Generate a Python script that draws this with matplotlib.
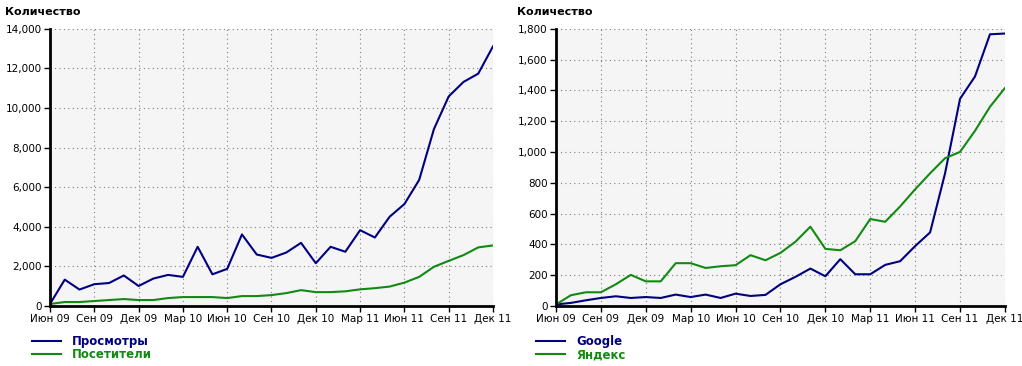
import matplotlib
matplotlib.use("Agg")
import matplotlib.pyplot as plt

# monthly data, Jun 2009 .. Dec 2011
tick_labels = ["Июн 09", "Сен 09", "Дек 09", "Мар 10", "Июн 10", "Сен 10",
               "Дек 10", "Мар 11", "Июн 11", "Сен 11", "Дек 11"]

views = [100, 1330, 830, 1100, 1160, 1540, 1010, 1385, 1570, 1470, 2990,
         1600, 1875, 3615, 2600, 2430, 2700, 3190, 2160, 2990, 2740, 3830,
         3460, 4510, 5150, 6370, 8940, 10590, 11320, 11740, 13120]
visitors = [100, 200, 200, 250, 300, 350, 300, 300, 400, 450, 450,
            450, 400, 500, 500, 550, 650, 800, 700, 700, 740, 840,
            900, 980, 1180, 1470, 1980, 2280, 2570, 2960, 3060]

google = [10, 20, 37, 52, 63, 52, 58, 52, 74, 58, 74,
          52, 80, 65, 72, 141, 189, 243, 193, 304, 206, 206,
          267, 291, 389, 478, 862, 1346, 1491, 1765, 1770]
yandex = [10, 70, 89, 89, 141, 202, 160, 160, 278, 278, 247,
          258, 265, 330, 297, 345, 417, 515, 371, 362, 421, 565,
          547, 647, 758, 862, 960, 1001, 1138, 1294, 1416]

NAVY = "#000080"
GREEN = "#128a12"
TICK_FS = 7.5


def style_axes(ax, ymax, ystep):
    months = list(range(len(views)))
    ax.set_facecolor("#f5f5f5")
    ax.set_xlim(0, months[-1])
    ax.set_ylim(0, ymax)
    ax.set_xticks(months[::3])
    ax.set_xticklabels(tick_labels, fontsize=TICK_FS)
    yt = list(range(0, ymax + 1, ystep))
    ax.set_yticks(yt)
    ax.set_yticklabels([f"{v:,}" for v in yt], fontsize=TICK_FS)
    ax.grid(True, linestyle=(0, (1, 3)), color="#808080", linewidth=0.8)
    for s in ["top", "right"]:
        ax.spines[s].set_visible(False)
    for s in ["left", "bottom"]:
        ax.spines[s].set_linewidth(2)
    ax.tick_params(length=4, width=1, pad=2)


fig = plt.figure(figsize=(10.22, 3.66), dpi=100)
ax1 = fig.add_axes([0.0489, 0.164, 0.4335, 0.757])
ax2 = fig.add_axes([0.544, 0.164, 0.4393, 0.757])

x = list(range(len(views)))
ax1.plot(x, views, color=NAVY, lw=1.5, label="Просмотры")
ax1.plot(x, visitors, color=GREEN, lw=1.5, label="Посетители")
style_axes(ax1, 14000, 2000)

ax2.plot(x, google, color=NAVY, lw=1.5, label="Google")
ax2.plot(x, yandex, color=GREEN, lw=1.5, label="Яндекс")
style_axes(ax2, 1800, 200)

fig.text(5 / 1022, 1 - 12 / 366, "Количество", fontsize=8, fontweight="bold", va="center")
fig.text(517 / 1022, 1 - 12 / 366, "Количество", fontsize=8, fontweight="bold", va="center")

for ax, x0 in [(ax1, 26), (ax2, 530)]:
    leg = ax.legend(loc="upper left", bbox_to_anchor=(x0 / 1022, 1 - 329 / 366),
                    bbox_transform=fig.transFigure, frameon=False,
                    prop={"size": 8.5, "weight": "bold"}, handlelength=2.5,
                    handletextpad=0.9, labelspacing=0.05, borderpad=0)
    for txt, c in zip(leg.get_texts(), [NAVY, GREEN]):
        txt.set_color(c)

fig.savefig("out.png", dpi=100)
